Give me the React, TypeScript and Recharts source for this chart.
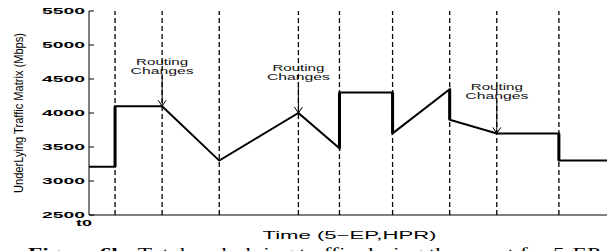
import React from "react";
import { Line, LineChart, ReferenceDot, ReferenceLine, XAxis, YAxis } from "recharts";

// time units along the x axis (t0 = 0), traffic in Mbps
const times = [0, 26, 26, 73, 130, 209, 250, 250, 303, 303, 360, 360, 407, 469, 469, 520];
const traffic = [3210, 3210, 4100, 4100, 3300, 4000, 3480, 4300, 4300, 3700, 4350, 3900, 3700, 3700, 3300, 3300];
const eventTimes = [26, 73, 130, 209, 250, 303, 360, 407, 469];
const yTicks = [2500, 3000, 3500, 4000, 4500, 5000, 5500];
const routingTimes = [73, 209, 407];
const routingTips = [4100, 4000, 3700];
const routingTops = [4540, 4455, 4175];

const sans = "'Liberation Sans', Arial, Helvetica, sans-serif";

const series = times.map((t, i) => ({ t, v: traffic[i] }));

// vertical steps drawn heavier, like the original
const jumps = series.flatMap((p, i) => {
  const next = series[i + 1];
  if (!next || next.t !== p.t) return [];
  return [p, next, { t: p.t, v: null }];
});

function LeftTick({ x, y, payload }: any) {
  return (
    <g>
      <line x1={x + 4} x2={x + 9} y1={y} y2={y} stroke="#000" />
      <text
        x={x}
        y={y}
        dy={3}
        textAnchor="end"
        fontSize={8.5}
        fontWeight="bold"
        fontFamily={sans}
        textLength={43}
        lengthAdjust="spacingAndGlyphs"
        fill="#000"
      >
        {payload.value}
      </text>
    </g>
  );
}

function RightTick({ x, y }: any) {
  return <line x1={x - 5} x2={x} y1={y} y2={y} stroke="#000" />;
}

function BottomTick({ x, y }: any) {
  return (
    <text
      x={x - 5}
      y={y + 11}
      textAnchor="middle"
      fontSize={9.5}
      fontWeight="bold"
      fontFamily={sans}
      textLength={16}
      lengthAdjust="spacingAndGlyphs"
      fill="#000"
    >
      t0
    </text>
  );
}

function ArrowHead({ cx, cy }: any) {
  return <path d={`M${cx - 4},${cy - 6} L${cx},${cy} L${cx + 4},${cy - 6}`} fill="none" stroke="#000" strokeWidth={1} />;
}

function RoutingNote({ cx, cy }: any) {
  return (
    <g fontFamily={sans} fontSize={9} fill="#111">
      <text x={cx} y={cy - 11} textAnchor="middle" textLength={52} lengthAdjust="spacingAndGlyphs">
        Routing
      </text>
      <text x={cx} y={cy - 2} textAnchor="middle" textLength={63} lengthAdjust="spacingAndGlyphs">
        Changes
      </text>
    </g>
  );
}

export default function App() {
  return (
    <div style={{ position: "fixed", left: 0, top: 0, width: 607, height: 251, overflow: "hidden", background: "#fff" }}>
      <LineChart width={620} height={251} data={series} margin={{ top: 11, right: 0, bottom: 0, left: 0 }}>
        <XAxis
          dataKey="t"
          type="number"
          domain={[0, 520]}
          ticks={[0]}
          height={36}
          axisLine={{ stroke: "#000" }}
          tickLine={false}
          tickSize={0}
          tickMargin={0}
          tick={BottomTick}
          label={{
            content: ({ viewBox }: any) => (
              <text
                x={viewBox.x + viewBox.width / 2}
                y={viewBox.y + 24}
                textAnchor="middle"
                fontSize={10}
                fontFamily={sans}
                textLength={174}
                lengthAdjust="spacingAndGlyphs"
                fill="#000"
              >
                Time (5−EP,HPR)
              </text>
            ),
          }}
        />
        <XAxis xAxisId="top" orientation="top" type="number" domain={[0, 520]} height={0} tick={false} tickLine={false} axisLine={{ stroke: "#000" }} />
        <YAxis
          type="number"
          domain={[2500, 5500]}
          ticks={yTicks}
          width={89}
          axisLine={{ stroke: "#000" }}
          tickLine={false}
          tickSize={0}
          tickMargin={4}
          tick={LeftTick}
          label={{
            content: ({ viewBox }: any) => {
              const cy = viewBox.y + viewBox.height / 2;
              return (
                <text
                  x={23}
                  y={cy}
                  transform={`rotate(-90, 23, ${cy})`}
                  textAnchor="middle"
                  fontSize={13}
                  fontFamily={sans}
                  textLength={160}
                  lengthAdjust="spacingAndGlyphs"
                  fill="#000"
                >
                  UnderLying Traffic Matrix (Mbps)
                </text>
              );
            },
          }}
        />
        <YAxis
          yAxisId="right"
          orientation="right"
          type="number"
          domain={[2500, 5500]}
          ticks={yTicks}
          width={10}
          axisLine={{ stroke: "#000" }}
          tickLine={false}
          tickSize={0}
          tickMargin={0}
          tick={RightTick}
        />
        {eventTimes.map((t) => (
          <ReferenceLine key={t} x={t} stroke="#000" strokeWidth={1.3} strokeDasharray="5 3" />
        ))}
        <Line type="linear" dataKey="v" stroke="#000" strokeWidth={2} dot={false} isAnimationActive={false} />
        <Line type="linear" data={jumps} dataKey="v" stroke="#000" strokeWidth={3} dot={false} isAnimationActive={false} />
        {routingTimes.map((t, i) => (
          <ReferenceLine
            key={`arrow-${t}`}
            segment={[
              { x: t, y: routingTops[i] },
              { x: t, y: routingTips[i] },
            ]}
            stroke="#000"
            strokeWidth={1}
          />
        ))}
        {routingTimes.map((t, i) => (
          <ReferenceDot key={`tip-${t}`} x={t} y={routingTips[i]} r={0} shape={ArrowHead} />
        ))}
        {routingTimes.map((t, i) => (
          <ReferenceDot key={`note-${t}`} x={t} y={routingTops[i]} r={0} shape={RoutingNote} />
        ))}
      </LineChart>
      <svg width={607} height={251} style={{ position: "absolute", left: 0, top: 0, pointerEvents: "none" }}>
        <text
          x={28}
          y={258}
          fontSize={15}
          fontFamily="'Liberation Serif', 'Times New Roman', serif"
          textLength={572}
          lengthAdjust="spacingAndGlyphs"
          fill="#000"
        >
          <tspan fontWeight="bold">Figure 6b:</tspan> Total underlying traffic during the event for 5-EP
        </text>
      </svg>
    </div>
  );
}
